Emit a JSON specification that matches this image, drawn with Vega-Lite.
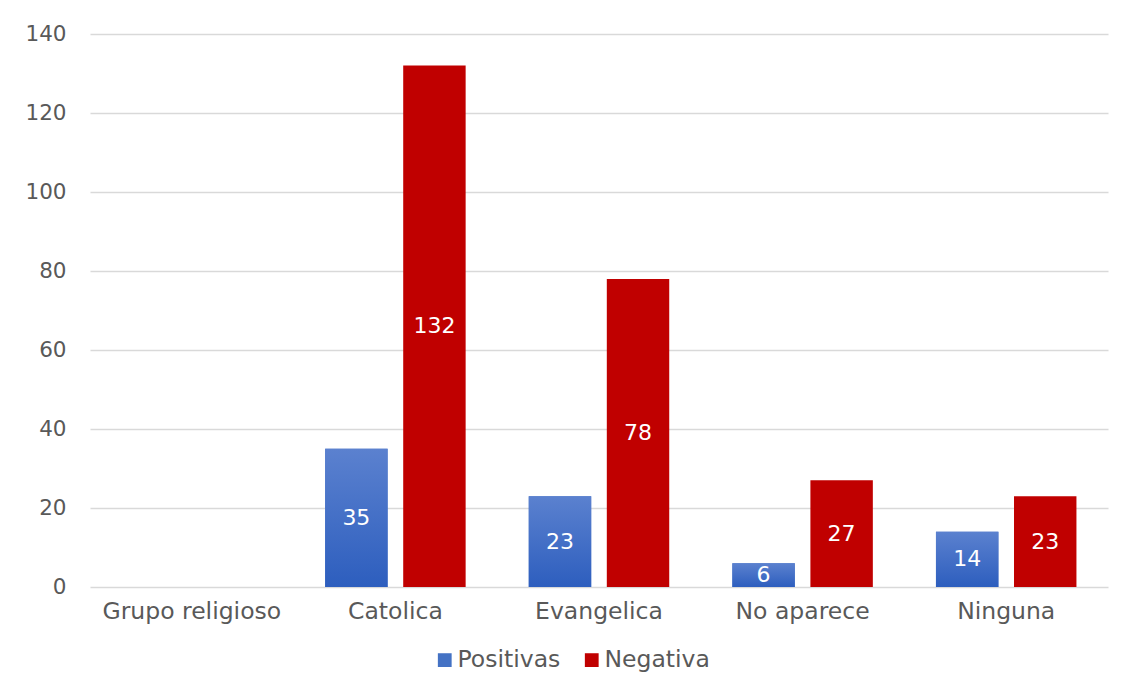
{
  "$schema": "https://vega.github.io/schema/vega-lite/v6.json",
  "width": 1018,
  "height": 553,
  "autosize": {"type": "none"},
  "padding": {"left": 90, "top": 34, "right": 16, "bottom": 97},
  "background": "#ffffff",
  "config": {
    "view": {"stroke": null},
    "font": "DejaVu Sans",
    "axis": {
      "labelFont": "DejaVu Sans",
      "labelColor": "#595959",
      "domain": false,
      "ticks": false,
      "title": null
    }
  },
  "data": {
    "values": [
      {"grupo": "Grupo religioso", "serie": "Positivas", "valor": 0},
      {"grupo": "Grupo religioso", "serie": "Negativa", "valor": 0},
      {"grupo": "Catolica", "serie": "Positivas", "valor": 35},
      {"grupo": "Catolica", "serie": "Negativa", "valor": 132},
      {"grupo": "Evangelica", "serie": "Positivas", "valor": 23},
      {"grupo": "Evangelica", "serie": "Negativa", "valor": 78},
      {"grupo": "No aparece", "serie": "Positivas", "valor": 6},
      {"grupo": "No aparece", "serie": "Negativa", "valor": 27},
      {"grupo": "Ninguna", "serie": "Positivas", "valor": 14},
      {"grupo": "Ninguna", "serie": "Negativa", "valor": 23}
    ]
  },
  "encoding": {
    "x": {
      "field": "grupo",
      "type": "nominal",
      "sort": null,
      "scale": {"paddingInner": 0.31, "paddingOuter": 0.155},
      "axis": {"labelAngle": 0, "labelPadding": 12, "labelFontSize": 23.5, "grid": false}
    },
    "xOffset": {
      "field": "serie",
      "type": "nominal",
      "sort": ["Positivas", "Negativa"],
      "scale": {"paddingInner": 0.2, "paddingOuter": 0}
    },
    "y": {
      "field": "valor",
      "type": "quantitative",
      "scale": {"domain": [0, 140], "nice": false},
      "axis": {
        "values": [0, 20, 40, 60, 80, 100, 120, 140],
        "grid": true,
        "gridColor": "#D9D9D9",
        "gridWidth": 1.5,
        "labelFontSize": 21.5,
        "labelPadding": 24
      }
    }
  },
  "layer": [
    {
      "mark": {"type": "bar"},
      "encoding": {
        "color": {
          "field": "serie",
          "type": "nominal",
          "sort": ["Positivas", "Negativa"],
          "scale": {"domain": ["Positivas", "Negativa"], "range": ["#4472C4", "#C00000"]},
          "legend": {
            "orient": "none",
            "legendX": 343,
            "legendY": 614,
            "direction": "horizontal",
            "title": null,
            "symbolType": "square",
            "symbolSize": 190,
            "symbolStrokeWidth": 0,
            "labelFont": "DejaVu Sans",
            "labelFontSize": 23.5,
            "labelColor": "#595959",
            "labelOffset": 1,
            "columnPadding": 19
          }
        }
      }
    },
    {
      "transform": [{"filter": "datum.serie === 'Positivas'"}],
      "mark": {
        "type": "bar",
        "fill": {
          "gradient": "linear",
          "x1": 0, "y1": 0, "x2": 0, "y2": 1,
          "stops": [
            {"offset": 0, "color": "#5B81CF"},
            {"offset": 1, "color": "#2D5EBE"}
          ]
        }
      }
    },
    {
      "transform": [
        {"filter": "datum.valor > 0"},
        {"calculate": "datum.valor / 2", "as": "medio"}
      ],
      "mark": {
        "type": "text",
        "color": "#ffffff",
        "fontSize": 22,
        "font": "DejaVu Sans",
        "baseline": "middle",
        "align": "center"
      },
      "encoding": {
        "y": {"field": "medio", "type": "quantitative"},
        "text": {"field": "valor", "type": "quantitative"}
      }
    }
  ]
}
